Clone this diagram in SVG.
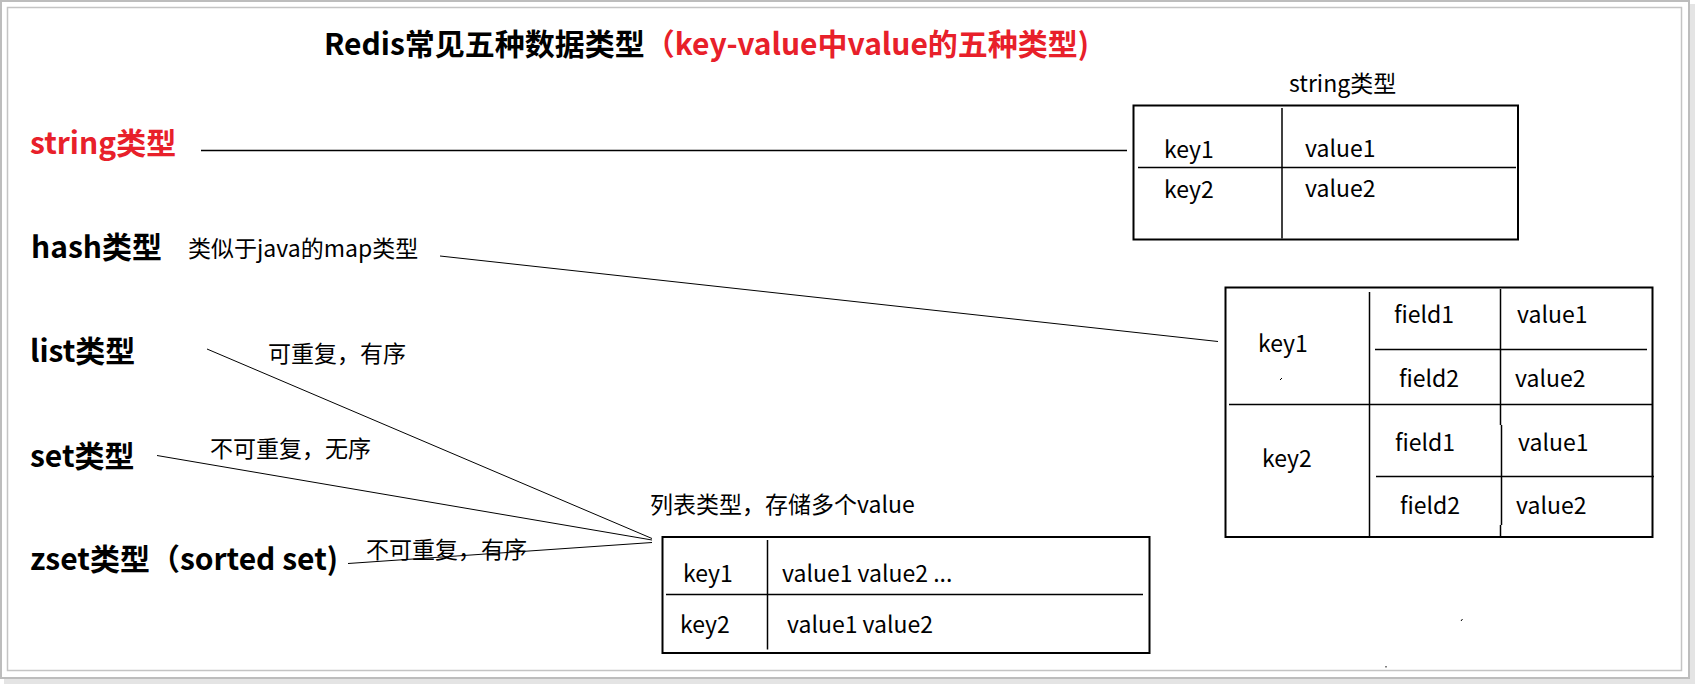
<svg xmlns="http://www.w3.org/2000/svg" width="1695" height="684" viewBox="0 0 1695 684">
<defs>
<style>
.t{font-family:"Noto Sans CJK SC","Noto Sans",sans-serif;fill:#000}
.b{font-weight:bold}
.lbl{font-size:30px;font-weight:bold}
.ann{font-size:23px}
.cell{font-size:23px}
.red{fill:#e8202a}
.box{fill:none;stroke:#000;stroke-width:2}
.in{fill:none;stroke:#000;stroke-width:1.5}
.ln{fill:none;stroke:#000;stroke-width:1}
</style>
</defs>
<rect x="0" y="0" width="1695" height="684" fill="#fff"/>
<rect x="4" y="679" width="1691" height="5" fill="#e4e4e4"/>
<rect x="1690" y="4" width="5" height="680" fill="#e4e4e4"/>
<rect x="1" y="1" width="1688" height="677" fill="#fff" stroke="#bdbdbd" stroke-width="2"/>
<rect x="7.5" y="7.5" width="1674" height="663" fill="#fff" stroke="#c4c4c4" stroke-width="1.5"/>

<g id="title">
<text class="t b" x="324" y="55" font-size="30">Redis常见五种数据类型<tspan class="red">（key-value中value的五种类型)</tspan></text>
</g>

<g id="labels">
<text class="t lbl red" x="30" y="154">string类型</text>
<text class="t lbl" x="31" y="258">hash类型</text>
<text class="t lbl" x="30" y="362">list类型</text>
<text class="t lbl" x="30" y="467">set类型</text>
<text class="t lbl" x="30" y="570">zset类型（sorted set)</text>
</g>

<g id="annotations">
<text class="t ann" x="188" y="257">类似于java的map类型</text>
<text class="t ann" x="268" y="362">可重复，有序</text>
<text class="t ann" x="210" y="457">不可重复，无序</text>
<text class="t ann" x="366" y="558">不可重复，有序</text>
</g>

<g id="connectors">
<line class="in" x1="201" y1="150.5" x2="1127" y2="150.5"/>
<line class="ln" x1="440" y1="256" x2="1218" y2="341.5"/>
<line class="ln" x1="207" y1="349" x2="652" y2="538.5"/>
<line class="ln" x1="157" y1="455.5" x2="652" y2="540"/>
<line class="ln" x1="348" y1="563.5" x2="652" y2="542.5"/>
</g>

<g id="string-table">
<text class="t cell" x="1289" y="92">string类型</text>
<rect class="box" x="1133.5" y="105.5" width="384.5" height="134"/>
<line class="in" x1="1282" y1="108" x2="1282" y2="238.5"/>
<line class="in" x1="1138" y1="167.5" x2="1516" y2="167.5"/>
<text class="t cell" x="1164" y="158">key1</text>
<text class="t cell" x="1305" y="157">value1</text>
<text class="t cell" x="1164" y="198">key2</text>
<text class="t cell" x="1305" y="197">value2</text>
</g>

<g id="hash-table">
<rect class="box" x="1225.5" y="287.5" width="427" height="249.5"/>
<line class="in" x1="1369.5" y1="292" x2="1369.5" y2="537"/>
<line class="in" x1="1500.5" y1="289" x2="1500.5" y2="425"/>
<line class="in" x1="1501.5" y1="425" x2="1501.5" y2="525"/>
<line class="in" x1="1500.5" y1="525" x2="1500.5" y2="537"/>
<line class="in" x1="1229" y1="404.5" x2="1652" y2="404.5"/>
<line class="in" x1="1375" y1="349.5" x2="1647" y2="349.5"/>
<line class="in" x1="1376" y1="476.5" x2="1654" y2="476.5"/>
<text class="t cell" x="1258" y="352">key1</text>
<text class="t cell" x="1262" y="467">key2</text>
<text class="t cell" x="1394" y="323">field1</text>
<text class="t cell" x="1517" y="323">value1</text>
<text class="t cell" x="1399" y="387">field2</text>
<text class="t cell" x="1515" y="387">value2</text>
<text class="t cell" x="1395" y="451">field1</text>
<text class="t cell" x="1518" y="451">value1</text>
<text class="t cell" x="1400" y="514">field2</text>
<text class="t cell" x="1516" y="514">value2</text>
</g>

<g id="list-table">
<text class="t ann" x="650" y="513">列表类型，存储多个value</text>
<rect class="box" x="662.5" y="537" width="487" height="116"/>
<line class="in" x1="767.5" y1="540" x2="767.5" y2="649.5"/>
<line class="in" x1="666" y1="594.5" x2="1143" y2="594.5"/>
<text class="t cell" x="683" y="582">key1</text>
<text class="t cell" x="782" y="582">value1 value2 ...</text>
<text class="t cell" x="680" y="633">key2</text>
<text class="t cell" x="787" y="633">value1 value2</text>
</g>

<g id="marks">
<line class="ln" x1="1280" y1="380" x2="1282" y2="378"/>
<line class="ln" x1="1461" y1="621" x2="1462.5" y2="619"/>
<line class="ln" x1="1386" y1="666" x2="1386" y2="667.5"/>
</g>
</svg>
